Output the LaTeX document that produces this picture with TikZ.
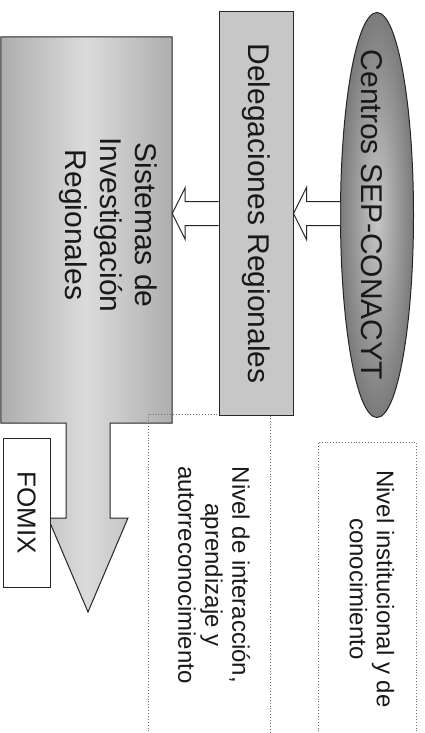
\documentclass[tikz,border=0pt]{standalone}
\usepackage{fontspec}
\setmainfont{Liberation Sans}
\usetikzlibrary{shapes.geometric,calc}
\begin{document}
\begin{tikzpicture}[x=1pt,y=-1pt,
  outl/.style={draw=black!85, line width=1pt},
  grayrect/.style={outl, rectangle, inner sep=0pt, fill=black!22},
  lbl/.style={text=black!90, inner sep=0pt, rotate=-90, align=center},
  big/.style={lbl, font=\fontsize{30}{35}\selectfont},
  small/.style={lbl, font=\fontsize{24}{27}\selectfont},
  dotbox/.style={draw=black!55, line width=0.9pt, dotted},
  hollow/.style={outl, fill=white, line join=miter},
]
\fill[white] (0,0) rectangle (425,733);
\useasboundingbox (0,0) rectangle (425,733);

% Sistemas block with the downward arrow
\node[inner sep=0pt, minimum width=171pt, minimum height=386pt] (sis) at (86.5,230) {};
\draw[outl, left color=black!32, right color=black!32, middle color=black!14]
  (sis.north west) -- (sis.north east) -- (sis.south east) -- (110,423) -- (110,518)
  -- (128,518) -- (88,612) -- (48,518) -- (66,518) -- (66,423) -- (sis.south west) -- cycle;

% dotted level boxes
\draw[dotbox] (148,740) -- (148,414) -- (270,414) -- (270,740);
\draw[dotbox] (318,740) -- (318,442) -- (416,442) -- (416,740);

% Delegaciones box and ellipse
\node[grayrect, minimum width=74pt, minimum height=403pt] (del) at (256,213.5) {};
\node[ellipse, draw=black!85, line width=1pt, inner sep=0pt, minimum width=73pt,
      minimum height=405pt, inner color=black!22, outer color=black!52] (ell) at (377,215) {};

% hollow arrows
\draw[hollow] ($(ell.west |- del.east)+(0,-12)$) -- ($(del.east)+(13,-12)$)
  -- ($(del.east)+(13,-26)$) -- (del.east) -- ($(del.east)+(13,26)$)
  -- ($(del.east)+(13,12)$) -- ($(ell.west |- del.east)+(0,12)$);
\draw[hollow] ($(del.west)+(0,-12)$) -- ($(sis.east |- del.west)+(13,-12)$)
  -- ($(sis.east |- del.west)+(13,-26)$) -- (sis.east |- del.west)
  -- ($(sis.east |- del.west)+(13,26)$) -- ($(sis.east |- del.west)+(13,12)$)
  -- ($(del.west)+(0,12)$);

% FOMIX box
\node[outl, rectangle, fill=white, inner sep=0pt, minimum width=47pt, minimum height=149pt] (fomix) at (26.5,512.5) {};

% texts
\node[big] (deltxt) at (del.center) {Delegaciones Regionales};
\node[big] (elltxt) at ($(ell.center)+(-5,0)$) {Centros SEP-CONACYT};
\node[big] (sistxt) at (108,225) {Sistemas de\\Investigación\\Regionales};
\node[lbl, font=\fontsize{26}{30}\selectfont] (fomixtxt) at (fomix.center) {FOMIX};
\node[small] (niv1) at (214,575) {Nivel de interacción,\\aprendizaje y\\autorreconocimiento};
\node[small] (niv2) at (372,589) {Nivel institucional y de\\conocimiento};
\end{tikzpicture}
\end{document}
